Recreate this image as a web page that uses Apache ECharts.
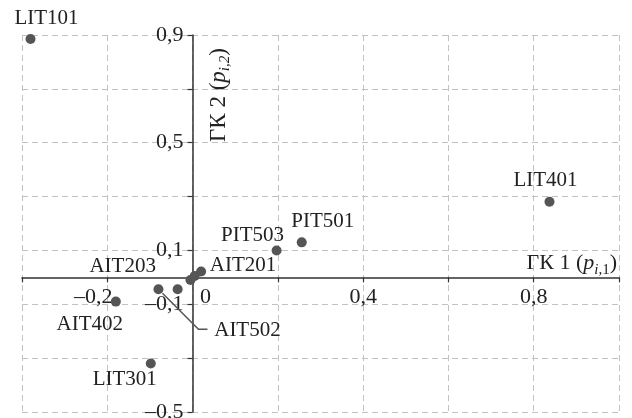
<!DOCTYPE html>
<html>
<head>
<meta charset="utf-8">
<script src="https://cdn.jsdelivr.net/npm/echarts@6/dist/echarts.min.js"></script>
<style>html,body{margin:0;padding:0;background:#fff;}#c{width:632px;height:418px;}</style>
</head>
<body>
<div id="c"></div>
<script>
// Data
var names = ['LIT101', 'LIT401', 'PIT501', 'PIT503', 'AIT203', 'AIT201', '', '', 'AIT502', 'AIT402', 'LIT301'];
var xVals = [-0.380, 0.837, 0.256, 0.197, -0.035, 0.020, 0.005, -0.005, -0.080, -0.180, -0.098];
var yVals = [0.885, 0.281, 0.130, 0.100, -0.044, 0.022, 0.005, -0.010, -0.044, -0.090, -0.320];
var xTickLabels = { '-0.2': '\u20130,2', '0': '0', '0.4': '0,4', '0.8': '0,8' };
var yTickLabels = { '0.9': '0,9', '0.5': '0,5', '0.1': '0,1', '-0.1': '\u20130,1', '-0.5': '\u20130,5' };
var xMin = -0.4, xMax = 1.0, yMin = -0.5, yMax = 0.9;

// Layout / style (not data)
var W = 632, H = 418;
var G = { left: 22, right: 13, top: 35, bottom: 6 };
var plotW = W - G.left - G.right, plotH = H - G.top - G.bottom;
var yAxisShift = -plotW * (0 - xMin) / (xMax - xMin);   // move y axis onto x = 0
var xAxisShift = -plotH * (0 - yMin) / (yMax - yMin);   // move x axis onto y = 0

var labelOffsets = {
  'LIT101': [16, -21], 'LIT401': [-4, -21], 'PIT501': [21, -21], 'PIT503': [-24, -15],
  'AIT203': [-55, -23], 'AIT201': [42, -6], 'AIT502': [89, 41], 'AIT402': [-26, 23], 'LIT301': [-26, 16]
};
var leaderName = 'AIT502';
var leaderPath = [[4, 4], [40, 40], [49, 40]];

var FONT = '"Liberation Serif", "DejaVu Serif", serif';

var data = names.map(function (n, i) {
  var item = { name: n, value: [xVals[i], yVals[i]] };
  if (n && labelOffsets[n]) {
    item.label = { show: true, position: 'inside', offset: labelOffsets[n] };
  } else {
    item.label = { show: false };
  }
  return item;
});
var leaderIdx = names.indexOf(leaderName);

function key(v) { return String(Math.round(v * 10) / 10); }

var chart = echarts.init(document.getElementById('c'), null, { renderer: 'canvas' });
chart.setOption({
  animation: false,
  backgroundColor: '#fff',
  grid: { left: G.left, right: G.right, top: G.top, bottom: G.bottom, containLabel: false, outerBoundsMode: 'none' },
  xAxis: {
    type: 'value', min: xMin, max: xMax, interval: 0.2, position: 'bottom', offset: xAxisShift,
    axisLine: { onZero: false, lineStyle: { color: '#333', width: 1.5 } },
    axisTick: { show: true, length: 5, lineStyle: { color: '#333', width: 1.2 } },
    splitLine: { show: true, lineStyle: { color: '#c2c2c2', type: [6, 4], width: 1 } },
    axisLabel: {
      margin: 9, color: '#222', fontFamily: FONT, fontSize: 22, showMinLabel: true, showMaxLabel: true,
      formatter: function (v) {
        var t = xTickLabels[key(v)];
        if (t === undefined) return '';
        if (key(v) === '0') return '{z|' + t + '}';
        if (key(v) === '-0.2') return '{m|' + t + '}';
        return t;
      },
      rich: {
        z: { fontFamily: FONT, fontSize: 22, color: '#222', padding: [0, 0, 0, 26] },
        m: { fontFamily: FONT, fontSize: 22, color: '#222', padding: [0, 28, 0, 0] }
      }
    }
  },
  yAxis: {
    type: 'value', min: yMin, max: yMax, interval: 0.2, position: 'left', offset: yAxisShift,
    axisLine: { onZero: false, lineStyle: { color: '#333', width: 1.5 } },
    axisTick: { show: true, length: 5, lineStyle: { color: '#333', width: 1.2 } },
    splitLine: { show: true, lineStyle: { color: '#c2c2c2', type: [6, 4], width: 1 } },
    axisLabel: {
      margin: 9, color: '#222', fontFamily: FONT, fontSize: 22, showMinLabel: true, showMaxLabel: true,
      formatter: function (v) {
        var t = yTickLabels[key(v)];
        return t === undefined ? '' : t;
      }
    }
  },
  series: [{
    type: 'scatter',
    symbol: 'circle',
    symbolSize: 10,
    itemStyle: { color: '#555555', opacity: 1 },
    label: {
      show: true, formatter: '{b}', color: '#222', fontFamily: FONT, fontSize: 21
    },
    data: data,
    z: 5
  }, {
    type: 'custom',
    silent: true,
    z: 4,
    data: [[xVals[leaderIdx], yVals[leaderIdx]]],
    renderItem: function (params, api) {
      var p = api.coord([api.value(0), api.value(1)]);
      var pts = leaderPath.map(function (d) { return [p[0] + d[0], p[1] + d[1]]; });
      return {
        type: 'polyline',
        shape: { points: pts },
        style: { stroke: '#555', lineWidth: 1.5, fill: null }
      };
    }
  }],
  graphic: [
    {
      type: 'text', x: 217, y: 95, rotation: Math.PI / 2, z: 10,
      style: {
        text: '{n|\u0413\u041a 2 (}{it|p}{sub|i,2}{n|)}',
        align: 'center', verticalAlign: 'middle',
        rich: {
          n: { fontFamily: FONT, fontSize: 23, fill: '#222', lineHeight: 26, verticalAlign: 'bottom' },
          it: { fontFamily: FONT, fontSize: 23, fontStyle: 'italic', fill: '#222', lineHeight: 26, verticalAlign: 'bottom' },
          sub: { fontFamily: FONT, fontSize: 15, fontStyle: 'italic', fill: '#222', lineHeight: 15, verticalAlign: 'bottom', padding: [0, 0, -3, 0] }
        }
      }
    },
    {
      type: 'text', x: 617, y: 262, z: 10,
      style: {
        text: '{n|\u0413\u041a 1 (}{it|p}{sub|i,}{subn|1}{n|)}',
        align: 'right', verticalAlign: 'middle',
        rich: {
          n: { fontFamily: FONT, fontSize: 22, fill: '#222', lineHeight: 25, verticalAlign: 'bottom' },
          it: { fontFamily: FONT, fontSize: 22, fontStyle: 'italic', fill: '#222', lineHeight: 25, verticalAlign: 'bottom' },
          sub: { fontFamily: FONT, fontSize: 15, fontStyle: 'italic', fill: '#222', lineHeight: 15, verticalAlign: 'bottom', padding: [0, 0, -3, 0] },
          subn: { fontFamily: FONT, fontSize: 15, fill: '#222', lineHeight: 15, verticalAlign: 'bottom', padding: [0, 0, -3, 0] }
        }
      }
    }
  ]
});
</script>
</body>
</html>
